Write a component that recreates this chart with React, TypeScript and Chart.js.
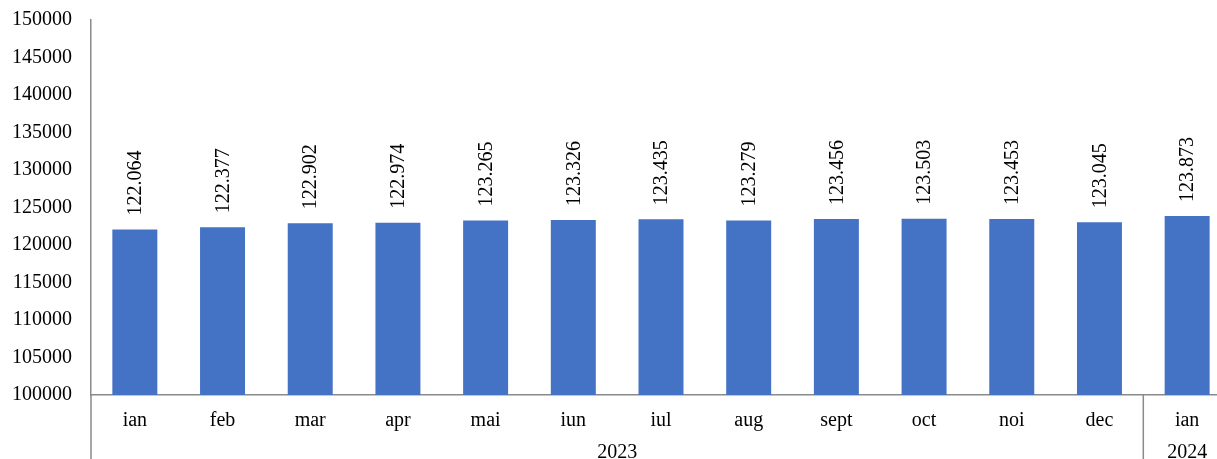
import React, { useEffect, useRef } from "react";
import { Chart, registerables } from "chart.js";

Chart.register(...registerables);

const categories = ["ian", "feb", "mar", "apr", "mai", "iun", "iul", "aug", "sept", "oct", "noi", "dec", "ian"];
const values = [122064, 122377, 122902, 122974, 123265, 123326, 123435, 123279, 123456, 123503, 123453, 123045, 123873];
const groupLabels = ["2023", "2024"];
const groupSpans = [12, 1];
const yMin = 100000;
const yMax = 150000;
const yStep = 5000;

const FONT = '"Liberation Serif", "Times New Roman", serif';
const AXIS_COLOR = "#8a8a8a";
const BAR_COLOR = "#4472C4";

const overlayPlugin = {
  id: "overlay",
  afterDatasetsDraw(chart: any) {
    const ctx = chart.ctx;
    const meta = chart.getDatasetMeta(0);
    ctx.save();
    ctx.fillStyle = "#000";
    ctx.font = `20px ${FONT}`;
    ctx.textBaseline = "middle";
    ctx.textAlign = "left";
    meta.data.forEach((bar: any, i: number) => {
      const txt = (values[i] / 1000).toFixed(3);
      ctx.save();
      ctx.translate(bar.x + 1, bar.y - 14);
      ctx.rotate(-Math.PI / 2);
      ctx.fillText(txt, 0, 0);
      ctx.restore();
    });
    ctx.restore();
  },
  afterDraw(chart: any) {
    const ctx = chart.ctx;
    const xs = chart.scales.x;
    const area = chart.chartArea;
    const bottom = chart.height;
    ctx.save();
    ctx.strokeStyle = AXIS_COLOR;
    ctx.lineWidth = 1.5;
    ctx.beginPath();
    ctx.moveTo(area.left, area.bottom);
    ctx.lineTo(area.left, bottom);
    ctx.stroke();
    ctx.fillStyle = "#000";
    ctx.font = `20px ${FONT}`;
    ctx.textAlign = "center";
    ctx.textBaseline = "middle";
    categories.forEach((c, i) => {
      ctx.fillText(c, xs.getPixelForValue(i), area.bottom + 26);
    });
    let start = 0;
    const half = (xs.getPixelForValue(1) - xs.getPixelForValue(0)) / 2;
    groupLabels.forEach((g, gi) => {
      const end = start + groupSpans[gi] - 1;
      const x0 = xs.getPixelForValue(start) - half;
      const x1 = xs.getPixelForValue(end) + half;
      ctx.fillText(g, (x0 + x1) / 2, area.bottom + 58);
      if (gi < groupLabels.length - 1) {
        ctx.beginPath();
        ctx.moveTo(x1, area.bottom);
        ctx.lineTo(x1, bottom);
        ctx.stroke();
      }
      start = end + 1;
    });
    ctx.restore();
  },
};

export default function App() {
  const ref = useRef<HTMLCanvasElement | null>(null);
  useEffect(() => {
    if (!ref.current) return;
    const chart = new Chart(ref.current, {
      type: "bar",
      data: {
        labels: categories,
        datasets: [
          {
            data: values,
            backgroundColor: BAR_COLOR,
            categoryPercentage: 1,
            barPercentage: 0.513,
          },
        ],
      },
      options: {
        responsive: false,
        animation: false,
        layout: { padding: { top: 20, left: 0, right: 0, bottom: 0 } },
        plugins: { legend: { display: false }, tooltip: { enabled: false } },
        scales: {
          x: {
            grid: { display: false, drawTicks: false },
            border: { display: true, color: AXIS_COLOR, width: 1.5 },
            ticks: { display: false },
            afterFit: (s: any) => {
              s.height = 64;
            },
          },
          y: {
            min: yMin,
            max: yMax,
            grid: { display: false, drawTicks: false },
            border: { display: true, color: AXIS_COLOR, width: 1.5 },
            ticks: {
              stepSize: yStep,
              padding: 19,
              color: "#000",
              font: { family: FONT, size: 20 },
              callback: (v: any) => String(v),
            },
            afterFit: (s: any) => {
              s.width = 91;
              s.paddingTop = 10;
              s.paddingBottom = 10;
            },
          },
        },
      },
      plugins: [overlayPlugin],
    });
    return () => chart.destroy();
  }, []);
  return (
    <div style={{ position: "fixed", left: 0, top: 0, width: 1217, height: 459, overflow: "hidden", background: "#fff" }}>
      <canvas ref={ref} width={1231} height={459} style={{ width: 1231, height: 459, display: "block" }} />
    </div>
  );
}
